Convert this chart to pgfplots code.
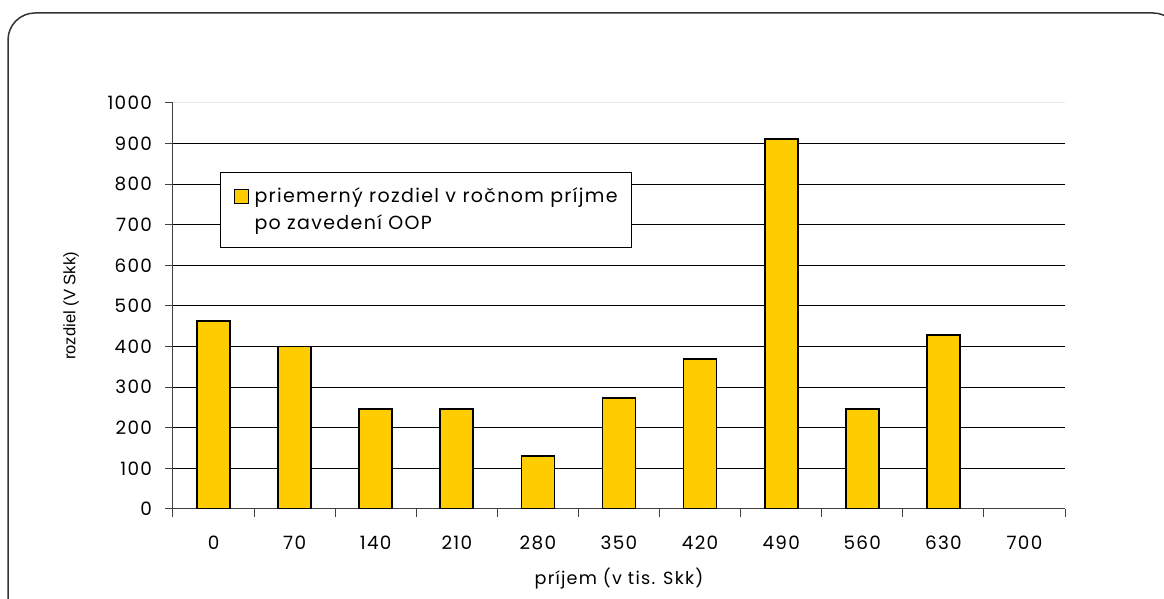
\documentclass[border=0pt]{standalone}
\usepackage{pgfplots}
\pgfplotsset{compat=1.18}
\usepackage{fontspec}
\setmainfont{Poppins}[LetterSpace=7]
\newfontfamily\labelfont{Liberation Sans}
\definecolor{barfill}{HTML}{FFCC00}
\definecolor{framegray}{HTML}{333333}
\begin{document}
\begin{tikzpicture}
\useasboundingbox (0,0) rectangle (582pt,299.5pt);
% rounded chart frame
\draw[framegray, line width=0.75pt, rounded corners=13.5pt] (4pt,-20pt) rectangle (590pt,293pt);
\begin{axis}[
  at={(86.5pt,45pt)}, anchor=south west,
  scale only axis, width=446pt, height=203pt,
  xmin=-0.5, xmax=10.5, ymin=0, ymax=1000,
  axis x line*=bottom, axis y line*=left,
  axis line style={line width=0.5pt, color=black!75},
  xtick={0,...,10},
  xticklabels={0,70,140,210,280,350,420,490,560,630,700},
  minor xtick={-0.5,0.5,...,10.5},
  major x tick style={draw=none},
  minor tick length=4pt,
  ytick={0,100,...,900},
  extra y ticks={1000},
  extra y tick style={grid style={black!8, line width=0.5pt}},
  major tick length=4pt,
  tick align=outside,
  tick style={black!75, line width=0.5pt},
  ymajorgrids,
  grid style={black, line width=0.5pt},
  /pgf/number format/assume math mode=true,
  scaled y ticks=false,
  yticklabel style={/pgf/number format/1000 sep={}},
  ticklabel style={font=\fontsize{9.2}{10}\selectfont},
  xticklabel style={yshift=-6pt},
  yticklabel style={xshift=-3pt},
  xlabel={príjem (v tis. Skk)},
  xlabel style={font=\fontsize{8.8}{10}\selectfont, yshift=-2pt},
  ylabel={rozdiel (V Skk)},
  ylabel style={font=\labelfont\fontsize{8.3}{9}\selectfont, yshift=3pt},
  legend style={
    at={(0.0527,0.830)}, anchor=north west,
    draw=black, line width=0.5pt,
    font=\fontsize{9.5}{11}\selectfont,
    inner xsep=5pt, inner ysep=5.5pt, row sep=0.5pt,
    cells={anchor=west},
  },
  legend image code/.code={%
    \path[draw=none, fill=none] (0pt,0pt) -- (10pt,0pt);
    \draw[#1, line width=0.5pt] (2pt,-3.5pt) rectangle (9pt,3.5pt);},
]
\addplot[ybar, bar width=16.5pt, fill=barfill, draw=black, line width=0.85pt]
  coordinates {(0,463) (1,400) (2,246) (3,246) (4,130) (5,273) (6,369) (7,911) (8,246) (9,429)};
\addlegendentry{priemerný rozdiel v ročnom príjme}
\addlegendimage{empty legend}
\addlegendentry{po zavedení OOP}
\end{axis}
\end{tikzpicture}
\end{document}
